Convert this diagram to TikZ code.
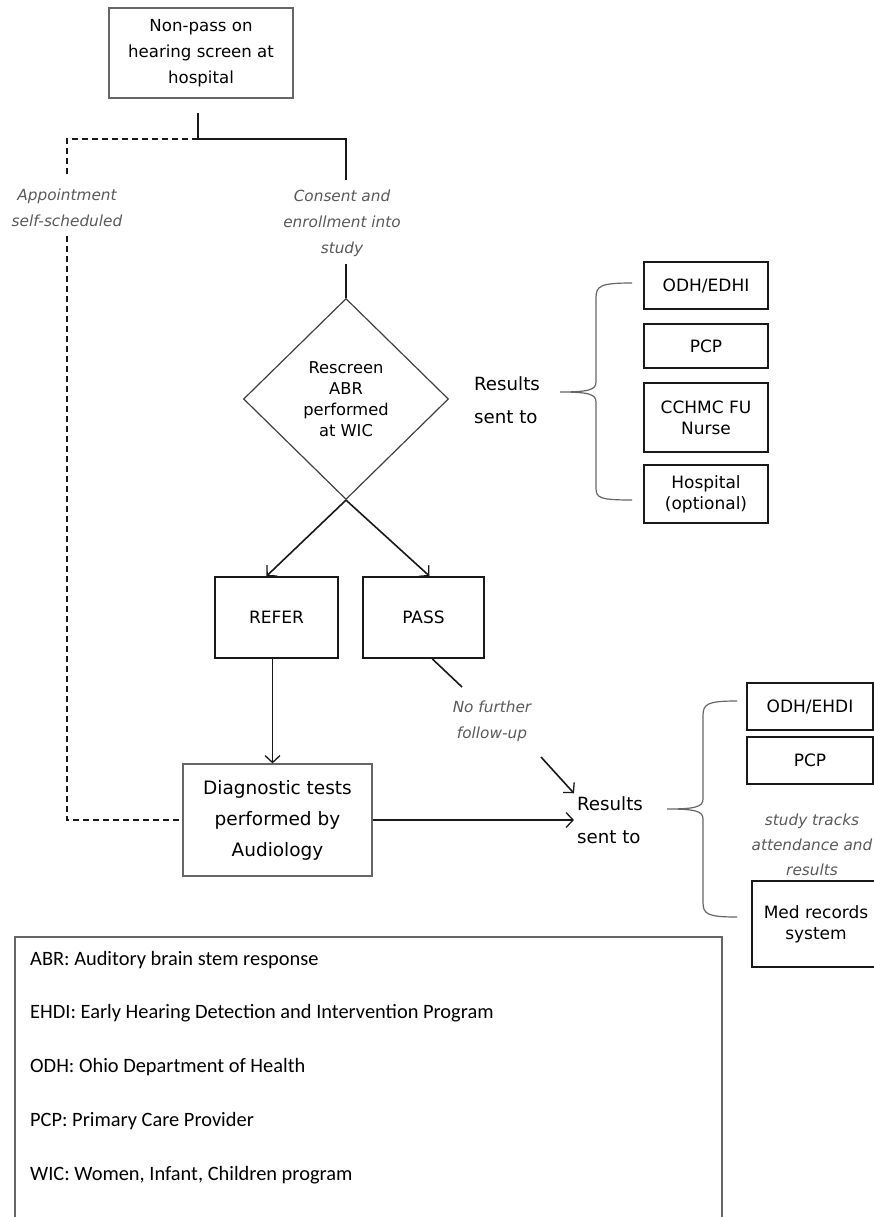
\documentclass[tikz,border=0pt]{standalone}
\usepackage{fontspec}
\setmainfont{DejaVu Sans}
\newfontfamily\legendfont{Carlito}
\usetikzlibrary{shapes.geometric,arrows.meta}

\tikzset{
  box/.style={draw=black!60, line width=1.2pt, align=center, inner sep=0pt},
  bbox/.style={draw=black!90, line width=1.8pt, align=center, inner sep=0pt,
    font=\fontsize{17}{21}\selectfont},
  note/.style={text=black!65, align=center, font=\itshape\fontsize{15.3}{26}\selectfont},
  link/.style={draw=black!90, line width=1.6pt},
  dashlink/.style={link, dash pattern=on 6pt off 4pt},
  arr/.style={link, -{Straight Barb[length=7pt,width=15pt,line width=1.3pt]}},
  brace/.style={draw=black!60, line width=1.2pt},
  legend/.style={anchor=west, inner sep=0pt, font=\legendfont\fontsize{20.4}{24}\selectfont},
}

\begin{document}
\begin{tikzpicture}[x=1pt,y=-1pt]
\path[use as bounding box, clip] (0,0) rectangle (874,1217);

% main flow
\node[box, minimum width=184pt, minimum height=90pt, font=\fontsize{16.6}{26}\selectfont]
  (hosp) at (201,53) {Non-pass on\\hearing screen at\\hospital};
\node[note] (appt) at (67,208) {Appointment\\self-scheduled};
\node[note] (consent) at (342,223) {Consent and\\enrollment into\\study};
\node[diamond, draw=black!75, line width=1.2pt, minimum width=205pt, minimum height=201pt,
  inner sep=0pt, align=center, font=\fontsize{16.3}{21}\selectfont]
  (rescreen) at (346,399) {Rescreen\\ABR\\performed\\at WIC};
\node[bbox, minimum width=123pt, minimum height=81pt] (refer) at (276.5,617.5) {REFER};
\node[bbox, minimum width=121pt, minimum height=81pt] (pass) at (423.5,617.5) {PASS};
\node[box, minimum width=189pt, minimum height=112pt, font=\fontsize{18.5}{31}\selectfont]
  (diag) at (277.5,820) {Diagnostic tests\\performed by\\Audiology};
\node[note] (nofurther) at (492,721) {No further\\follow-up};

% results after rescreen
\node[align=left, inner sep=3pt, font=\fontsize{18.2}{33}\selectfont] (res1) at (507,400) {Results\\sent to};
\begin{scope}[every node/.style={bbox, minimum width=124pt}]
  \node[minimum height=47pt] (odh1)  at (706,285.5) {ODH/EDHI};
  \node[minimum height=44pt] (pcp1)  at (706,346)   {PCP};
  \node[minimum height=69pt] (nurse) at (706,417.5) {CCHMC FU\\Nurse};
  \node[minimum height=58pt] (hopt)  at (706,494)   {Hospital\\(optional)};
\end{scope}

% results after diagnostics
\node[align=left, inner sep=3pt, font=\fontsize{18.2}{33}\selectfont] (res2) at (610,820) {Results\\sent to};
\begin{scope}[every node/.style={bbox, minimum width=126pt}]
  \node[minimum height=47pt] (odh2) at (810,706.5) {ODH/EHDI};
  \node[minimum height=47pt] (pcp2) at (810,760.5) {PCP};
  \node[minimum width=128pt, minimum height=86pt] (med) at (816,924) {Med records\\system};
\end{scope}
\node[note, font=\itshape\fontsize{15.3}{25}\selectfont] (tracks) at (812,845) {study tracks\\attendance and\\results};

% connectors
\coordinate (split) at (198,139);
\draw[link, shorten <=14pt] (hosp.south -| split) -- (split) -- (split -| rescreen)
  -- ([yshift=6pt]rescreen |- consent.north);
\draw[dashlink] (split) -- (split -| appt) -- ([yshift=8pt]appt.north);
\draw[dashlink] ([yshift=-6pt]appt.south) |- (diag.west);
\draw[link] ([yshift=-4pt]rescreen |- consent.south) -- (rescreen.north);
\draw[arr] (rescreen.south) -- ([xshift=-10pt]refer.north);
\draw[arr] (rescreen.south) -- ([xshift=6pt]pass.north);
\draw[arr] ([xshift=-4pt]refer.south) -- ([xshift=-4pt]refer.south |- diag.north);
\coordinate (nfa) at (462,687);
\coordinate (nfb) at (541,757);
\draw[link] (pass.-78) -- (nfa);
\draw[arr] (nfb) -- (res2.north west);
\draw[arr] (diag.east) -- (res2.west);

% braces
\draw[brace] (632,283) .. controls (600,283) and (596,286) .. (596,298) -- (596,382)
  .. controls (596,390) and (588,392) .. (560,392) .. controls (588,392) and (596,394) .. (596,402)
  -- (596,488) .. controls (596,498) and (600,500) .. (632,500);
\draw[brace] (737,701) .. controls (707,701) and (703,704) .. (703,716) -- (703,799)
  .. controls (703,807) and (695,809) .. (667,809) .. controls (695,809) and (703,811) .. (703,819)
  -- (703,902) .. controls (703,914) and (707,917) .. (737,917);

% legend
\draw[black!60, line width=1.2pt] (15,1230) |- (722,937) -- (722,1230);
\node[legend] (abr)  at (30,960)  {ABR: Auditory brain stem response};
\node[legend] (ehdi) at (30,1013) {EHDI: Early Hearing Detection and Intervention Program};
\node[legend] (odh)  at (30,1067) {ODH: Ohio Department of Health};
\node[legend] (pcp)  at (30,1121) {PCP: Primary Care Provider};
\node[legend] (wic)  at (30,1175) {WIC: Women, Infant, Children program};

\end{tikzpicture}
\end{document}
